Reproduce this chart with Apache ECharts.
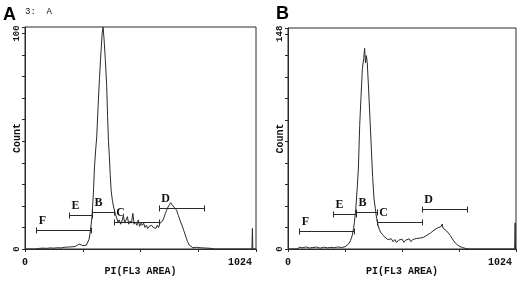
<!DOCTYPE html>
<html>
<head>
<meta charset="utf-8">
<script src="https://cdn.jsdelivr.net/npm/echarts@6/dist/echarts.min.js"></script>
<style>
html, body { margin: 0; padding: 0; background: #fff; }
#chart { width: 520px; height: 281px; }
</style>
</head>
<body>
<div id="chart"></div>
<script>
// panel A histogram (channel, count)
var chanA = [0, 48, 56, 64, 72, 80, 88, 96, 104, 112, 120, 128, 136, 144, 152, 160, 168, 176, 184, 192,
	200, 208, 216, 224, 232, 240, 248, 256, 264, 272, 278, 284, 290, 296, 300, 304, 308, 314, 318, 324,
	330, 336, 342, 346, 350, 356, 362, 366, 370, 374, 378, 382, 388, 394, 400, 406, 412, 418, 424, 430,
	436, 442, 448, 454, 460, 466, 472, 478, 484, 490, 496, 502, 508, 514, 520, 526, 532, 538, 544, 550,
	556, 562, 568, 574, 580, 586, 592, 598, 604, 610, 616, 622, 628, 634, 640, 646, 652, 658, 664, 672,
	680, 688, 696, 704, 712, 720, 728, 736, 744, 752, 760, 768, 776, 784, 792, 800, 808, 816, 824, 832,
	840, 960, 962, 964, 1006, 1008, 1010, 1024];
var countA = [0, 0, 0.6, 0.3, 0.8, 0.4, 0.7, 0.3, 0.8, 0.5, 0.9, 0.4, 0.8, 0.6, 0.9, 0.5, 1.0, 0.8, 1.0, 0.9,
	1.1, 1.0, 1.3, 1.2, 1.9, 2.3, 2.2, 1.6, 1.4, 1.8, 2.6, 4.5, 8.5, 14, 20, 28, 38, 47, 52, 66,
	79, 90, 100, 103, 98, 88, 76, 62, 50, 43, 34, 27, 22, 19, 16.5, 14.5, 12.5, 13.5, 11.5, 13,
	15.5, 12, 12.5, 15, 11.5, 13, 12, 16.5, 11.5, 12.5, 11, 13.5, 10.5, 12, 11, 12, 10, 11, 9.5, 10.5,
	9.6, 11, 10, 10.5, 9.6, 11, 10, 12, 11.5, 13, 14.5, 16.5, 18, 19.5, 20.5, 21.5, 20.5, 21, 19, 18,
	15.5, 13, 11, 8.5, 6, 3.5, 1.8, 1, 0.6, 0.4, 0.8, 0.3, 0.6, 0.2, 0.5, 0.2, 0.4, 0.1, 0.3, 0,
	0, 0, 0.6, 0, 0, 9.5, 0, 0];

// panel B histogram (channel, count)
var chanB = [0, 40, 52, 64, 80, 96, 112, 128, 144, 160, 176, 192, 208, 224, 240, 256, 264, 272, 280, 288,
	294, 298, 304, 310, 316, 322, 328, 334, 340, 344, 348, 352, 356, 362, 368, 374, 380, 386, 392, 398,
	404, 410, 416, 424, 432, 440, 448, 456, 464, 472, 480, 488, 496, 504, 512, 520, 528, 536, 544, 552,
	560, 568, 576, 584, 592, 600, 608, 616, 624, 632, 640, 648, 656, 664, 672, 680, 688, 692, 696, 704,
	712, 720, 728, 736, 744, 752, 760, 768, 776, 784, 792, 800, 816, 954, 956, 958, 1018, 1020, 1022, 1024];
var countB = [0, 0, 1.2, 0.8, 1.4, 0.7, 1.0, 1.3, 0.6, 1.2, 0.8, 1.1, 0.9, 1.4, 1.0, 1.5, 2.2, 3.5, 5.6, 9,
	14, 18, 27, 40, 55, 85, 105, 124, 131, 138, 128, 133, 128, 110, 90, 70, 50, 35, 28, 21,
	16.5, 13.5, 11.5, 10, 8.5, 7.5, 6.5, 5.6, 7, 5, 6.5, 4.5, 6, 5, 6.8, 4.6, 6, 5.2, 7, 5,
	6.5, 5.4, 7.2, 6, 7.5, 6.2, 8, 7.4, 9.5, 8.6, 11, 10, 13, 12, 14.5, 13.5, 15.5, 17.2, 14.5, 15,
	12.5, 11.5, 9.5, 7.5, 5.6, 4, 2.8, 2, 1.5, 1.0, 0.5, 0.3, 0, 0, 0.8, 0, 0, 18, 0, 0];

// gates (marker bars)
var gateNames = ['F', 'E', 'B', 'C', 'D'];
var gateStartA = [47, 196, 298, 396, 595];
var gateEndA = [291, 296, 396, 595, 793];
var gateLevelA = [8.6, 15.8, 17.1, 12.7, 19];
var gateStartB = [51, 201, 304, 400, 603];
var gateEndB = [296, 304, 398, 603, 805];
var gateLevelB = [12.6, 23.8, 25.3, 18.8, 27.7];

var yTopA = 100, yMaxA = 103, yStepA = 10;
var yTopB = 148, yMaxB = 152, yStepB = 14.8;

var ink = '#2a2a2a';
var mono = '"Liberation Mono", "DejaVu Sans Mono", monospace';

function zip(a, b) {
	return a.map(function(v, i) {
		return [v, b[i]];
	});
}

function gates(s, e, h) {
	return s.map(function(v, i) {
		return [v, e[i], h[i]];
	});
}

function gateItem(params, api) {
	var p1 = api.coord([api.value(0), api.value(2)]);
	var p2 = api.coord([api.value(1), api.value(2)]);
	var y = Math.round(p1[1]) + 0.5;
	var x1 = Math.round(p1[0]) + 0.5;
	var x2 = Math.round(p2[0]) + 0.5;
	var st = { stroke: ink, lineWidth: 1 };
	return {
		type: 'group',
		children: [
			{ type: 'line', shape: { x1: x1, y1: y, x2: x2, y2: y }, style: st },
			{ type: 'line', shape: { x1: x1, y1: y - 3, x2: x1, y2: y + 3 }, style: st },
			{ type: 'line', shape: { x1: x2, y1: y - 3, x2: x2, y2: y + 3 }, style: st },
			{
				type: 'text', x: x1 + 6, y: y - 10,
				style: {
					text: gateNames[params.dataIndex], fill: '#111',
					font: 'bold 12px "Liberation Serif", serif',
					align: 'center', verticalAlign: 'middle'
				}
			}
		]
	};
}

function xAxisOf(idx) {
	return {
		gridIndex: idx, type: 'value', min: 0, max: 1024, interval: 256,
		name: 'PI(FL3 AREA)', nameLocation: 'middle', nameGap: 17, nameMoveOverlap: false,
		nameTextStyle: { fontFamily: mono, fontSize: 10, fontWeight: 'bold', color: '#111' },
		axisLine: { lineStyle: { color: ink } },
		axisTick: { length: 3, lineStyle: { color: ink } },
		splitLine: { show: false },
		axisLabel: {
			margin: 8, fontFamily: mono, fontSize: 10, fontWeight: 'bold', color: '#111',
			formatter: function(v) {
				if (v === 0) return '0';
				if (v === 1024) return '{r|1024}';
				return '';
			},
			rich: { r: { fontFamily: mono, fontSize: 10, fontWeight: 'bold', color: '#111', padding: [0, 32, 0, 0] } }
		}
	};
}

function yAxisOf(idx, top, max, step) {
	return {
		gridIndex: idx, type: 'value', min: 0, max: max, interval: step,
		name: 'Count', nameLocation: 'middle', nameGap: 3, nameRotate: 90, nameMoveOverlap: false,
		nameTextStyle: { fontFamily: mono, fontSize: 10, fontWeight: 'bold', color: '#111' },
		axisLine: { show: true, lineStyle: { color: ink } },
		axisTick: { length: 3, lineStyle: { color: ink } },
		splitLine: { show: false },
		axisLabel: {
			rotate: 90, margin: 4, fontFamily: mono, fontSize: 9, fontWeight: 'bold', color: '#111',
			formatter: function(v) {
				if (v === 0) return '0';
				if (Math.abs(v - top) < 0.5) return String(top);
				return '';
			}
		}
	};
}

var chart = echarts.init(document.getElementById('chart'), null, { renderer: 'canvas' });

var option = {
	backgroundColor: '#fff',
	animation: false,
	title: [
		{ text: 'A', left: 3, top: 6, padding: 0, textStyle: { fontFamily: '"Liberation Sans", Arial', fontSize: 18, fontWeight: 'bold', color: '#000' } },
		{ text: '3:  A', left: 25, top: 7, padding: 0, textStyle: { fontFamily: mono, fontSize: 9, fontWeight: 'normal', color: '#111' } },
		{ text: 'B', left: 276, top: 5, padding: 0, textStyle: { fontFamily: '"Liberation Sans", Arial', fontSize: 18, fontWeight: 'bold', color: '#000' } }
	],
	grid: [
		{ left: 25, top: 27, width: 231, height: 227, show: true, borderColor: ink, borderWidth: 1 },
		{ left: 288, top: 28, width: 228, height: 227, show: true, borderColor: ink, borderWidth: 1 }
	],
	xAxis: [xAxisOf(0), xAxisOf(1)],
	yAxis: [yAxisOf(0, yTopA, yMaxA, yStepA), yAxisOf(1, yTopB, yMaxB, yStepB)],
	series: [
		{
			type: 'line', xAxisIndex: 0, yAxisIndex: 0, data: zip(chanA, countA),
			showSymbol: false, lineStyle: { color: ink, width: 1 }
		},
		{
			type: 'line', xAxisIndex: 1, yAxisIndex: 1, data: zip(chanB, countB),
			showSymbol: false, lineStyle: { color: ink, width: 1 }
		},
		{
			type: 'custom', xAxisIndex: 0, yAxisIndex: 0, renderItem: gateItem,
			encode: { x: [0, 1], y: 2 }, data: gates(gateStartA, gateEndA, gateLevelA)
		},
		{
			type: 'custom', xAxisIndex: 1, yAxisIndex: 1, renderItem: gateItem,
			encode: { x: [0, 1], y: 2 }, data: gates(gateStartB, gateEndB, gateLevelB)
		}
	]
};

chart.setOption(option);
</script>
</body>
</html>
